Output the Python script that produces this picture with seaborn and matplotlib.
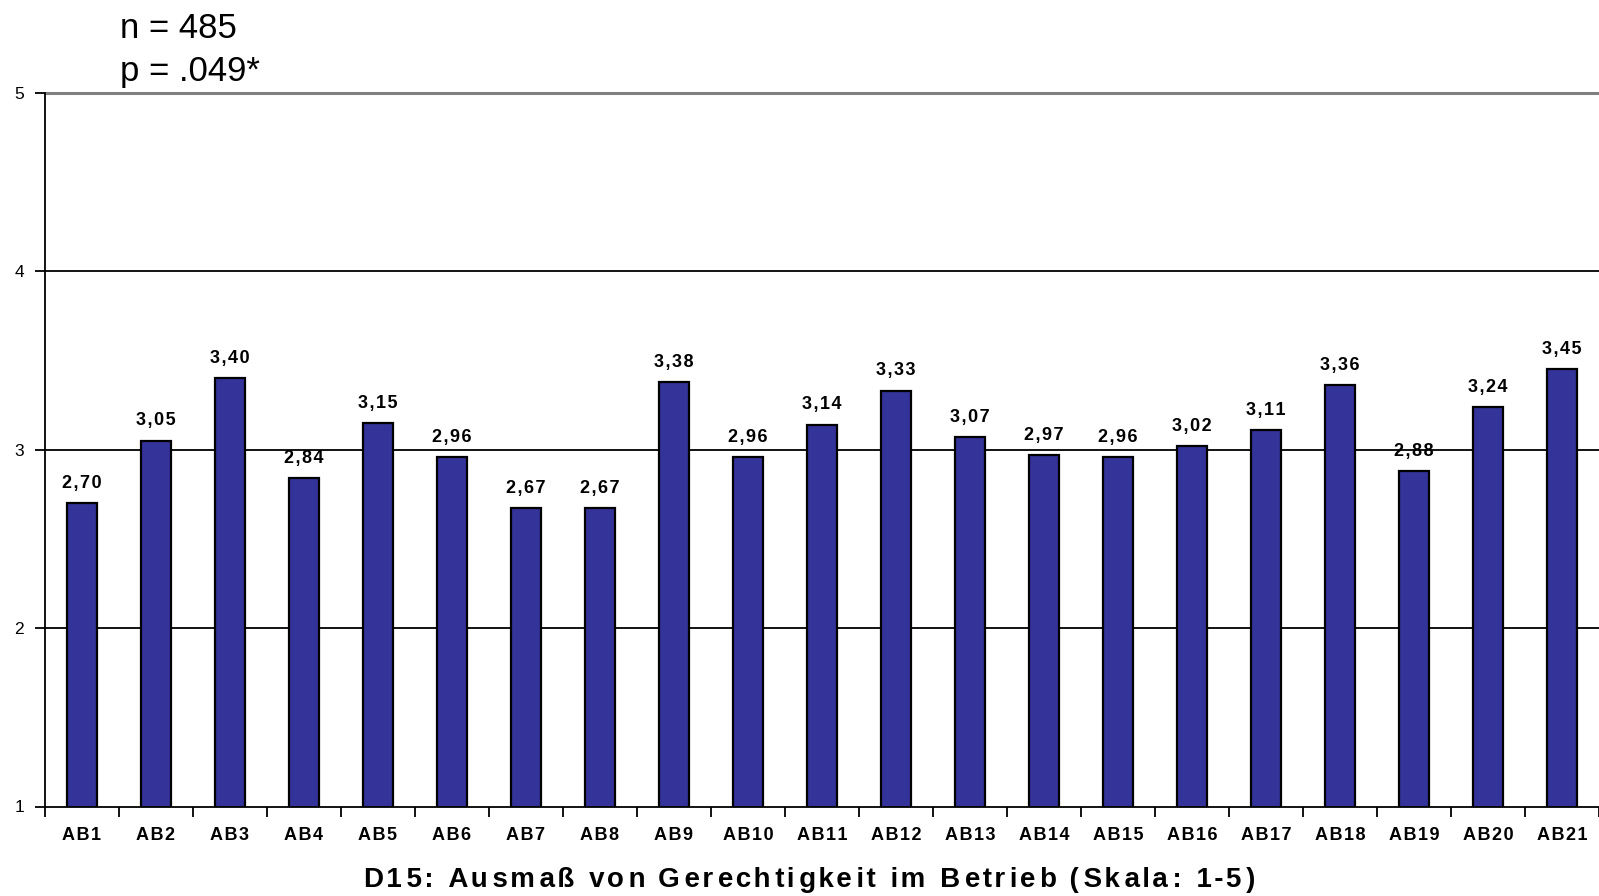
import matplotlib
matplotlib.use("Agg")
import matplotlib.pyplot as plt
import seaborn as sns
import pandas as pd
from matplotlib.ticker import FixedLocator

categories = [f"AB{i}" for i in range(1, 22)]
values = [2.70, 3.05, 3.40, 2.84, 3.15, 2.96, 2.67, 2.67, 3.38, 2.96, 3.14,
          3.33, 3.07, 2.97, 2.96, 3.02, 3.11, 3.36, 2.88, 3.24, 3.45]
y_ticks = [1, 2, 3, 4, 5]
x_title = "D15: Ausmaß von Gerechtigkeit im Betrieb (Skala: 1-5)"
notes = ["n = 485", "p = .049*"]

sns.set_theme(style="white")
plt.rcParams["font.family"] = ["Liberation Sans", "DejaVu Sans"]
plt.rcParams["text.color"] = "black"
plt.rcParams["xtick.color"] = "black"
plt.rcParams["ytick.color"] = "black"

HAIR = "\u200a"


def spaced(s, k=1.0):
    """Widen letter spacing: on average k hair spaces between characters."""
    out = s[0]
    for i, ch in enumerate(s[1:]):
        n = round((i + 1) * k) - round(i * k)
        out += HAIR * n + ch
    return out


def fmt(v):
    return f"{v:.2f}".replace(".", ",")


df = pd.DataFrame({"cat": categories, "val": values})

fig = plt.figure(figsize=(15.99, 8.96), dpi=100)
ax = fig.add_axes([45 / 1599, 1 - 806.5 / 896, 1 - 45 / 1599, (806.5 - 92.5) / 896])

# grid lines behind the bars
for y in [2, 3, 4]:
    ax.axhline(y, color="black", linewidth=1.3, zorder=0)
ax.axhline(5, color="#808080", linewidth=2.2, zorder=0, clip_on=False)

sns.barplot(data=df, x="cat", y="val", color="#333399", width=0.41,
            edgecolor="black", linewidth=1.6, saturation=1, ax=ax, zorder=2)

ax.set_xlim(-0.5, len(categories) - 0.5)
ax.set_ylim(1, 5)

for i, v in enumerate(values):
    ax.annotate(spaced(fmt(v)), (i, v), xytext=(0, 8), textcoords="offset points",
                ha="center", va="bottom", fontsize=13, fontweight="bold",
                color="black", zorder=3)

# spines
for s in ["top", "right"]:
    ax.spines[s].set_visible(False)
for s in ["left", "bottom"]:
    ax.spines[s].set_color("black")
    ax.spines[s].set_linewidth(1.3)

# y axis
ax.set_yticks(y_ticks)
ax.set_yticklabels([str(t) for t in y_ticks], fontsize=12.5)
ax.tick_params(axis="y", direction="out", length=7, width=1.3, color="black",
               left=True, pad=8)

# x axis: labels at centers, tick marks at category boundaries
ax.set_xticks(range(len(categories)))
ax.set_xticklabels([spaced(c, 1.15) for c in categories], fontsize=13, fontweight="bold")
ax.xaxis.set_minor_locator(FixedLocator([i - 0.5 for i in range(len(categories) + 1)]))
ax.tick_params(axis="x", which="major", length=0, pad=15)
ax.tick_params(axis="x", which="minor", direction="out", length=7, width=1.3,
               color="black", bottom=True)
ax.set_xlabel("")
ax.set_ylabel("")
ax.grid(False)

fig.text(810 / 1599, 1 - 880 / 896, spaced(x_title, 1.4), ha="center", va="center",
         fontsize=20, fontweight="bold")
fig.text(120 / 1599, 1 - 28 / 896, notes[0], ha="left", va="center", fontsize=25)
fig.text(120 / 1599, 1 - 72 / 896, notes[1], ha="left", va="center", fontsize=25)

fig.savefig("out.png", dpi=100)
